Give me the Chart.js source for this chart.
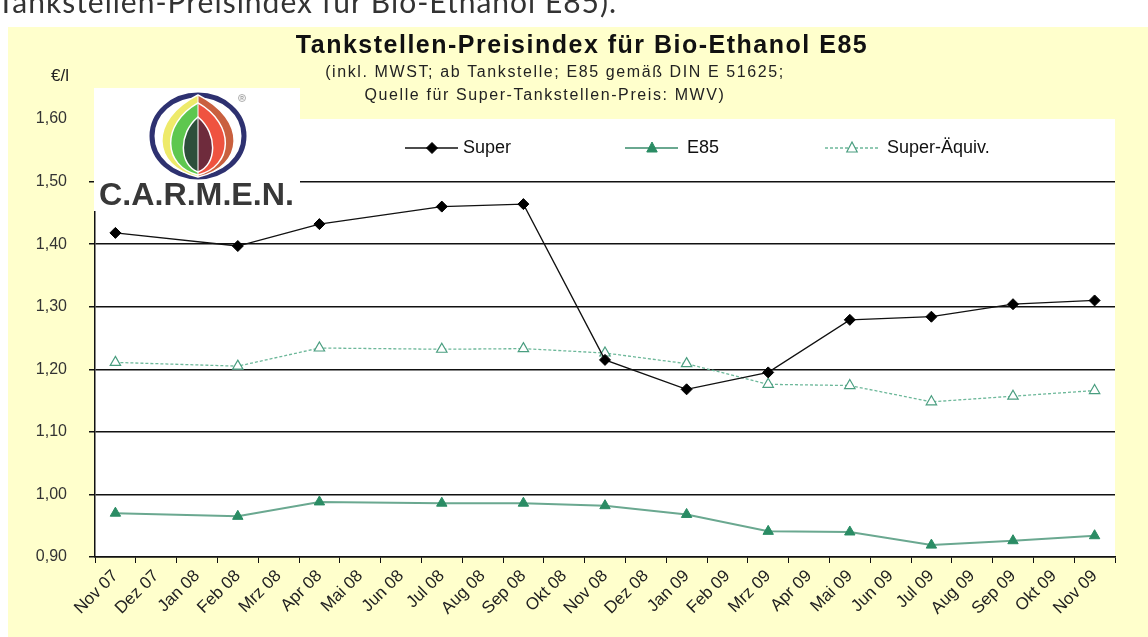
<!DOCTYPE html>
<html>
<head>
<meta charset="utf-8">
<script src="https://cdn.jsdelivr.net/npm/chart.js@4.4.1/dist/chart.umd.min.js"></script>
<style>
  html, body { margin: 0; padding: 0; background: #ffffff; overflow: hidden; }
  #wrap { position: relative; width: 1148px; height: 637px; }
  #cut { position: absolute; left: -3px; top: -17px; font-family: "Lato", "Open Sans", sans-serif; font-size: 30px; letter-spacing: 1px; color: #333; white-space: nowrap; z-index: 2; }
  canvas { position: absolute; left: 0; top: 0; }
</style>
</head>
<body>
<div id="wrap">
  <div id="cut">Tankstellen-Preisindex für Bio-Ethanol E85).</div>
  <canvas id="c" width="1148" height="637"></canvas>
</div>
<script>
// ---- Data ----
const months = ['Nov 07','Dez 07','Jan 08','Feb 08','Mrz 08','Apr 08','Mai 08','Jun 08','Jul 08','Aug 08','Sep 08','Okt 08',
                'Nov 08','Dez 08','Jan 09','Feb 09','Mrz 09','Apr 09','Mai 09','Jun 09','Jul 09','Aug 09','Sep 09','Okt 09','Nov 09'];
const sampleMonths = ['Nov 07','Feb 08','Apr 08','Jul 08','Sep 08','Nov 08','Jan 09','Mrz 09','Mai 09','Jul 09','Sep 09','Nov 09'];
const superValues  = [1.418, 1.397, 1.432, 1.460, 1.464, 1.215, 1.168, 1.195, 1.279, 1.284, 1.304, 1.310];
const e85Values    = [0.970, 0.965, 0.988, 0.986, 0.986, 0.982, 0.968, 0.941, 0.940, 0.919, 0.926, 0.934];
const aequivValues = [1.211, 1.205, 1.234, 1.232, 1.233, 1.226, 1.209, 1.176, 1.174, 1.148, 1.157, 1.166];
const yTicks = [0.90, 1.00, 1.10, 1.20, 1.30, 1.40, 1.50, 1.60];

const titleText = 'Tankstellen-Preisindex für Bio-Ethanol E85';
const subtitleLines = ['(inkl. MWST; ab Tankstelle; E85 gemäß DIN E 51625;', 'Quelle für Super-Tankstellen-Preis: MWV)'];
const unitLabel = '€/l';

function expand(values) {
  const out = months.map(() => null);
  sampleMonths.forEach((m, i) => { out[months.indexOf(m)] = values[i]; });
  return out;
}

const FONT = '"Liberation Sans", Arial, sans-serif';

const decorPlugin = {
  id: 'decor',
  beforeDraw(chart) {
    const ctx = chart.ctx, a = chart.chartArea;
    ctx.save();
    ctx.fillStyle = '#ffffff';
    ctx.fillRect(0, 0, chart.width, chart.height);
    ctx.fillStyle = '#ffffcc';
    ctx.fillRect(8, 27, chart.width - 8, chart.height - 27);
    ctx.fillStyle = '#ffffff';
    ctx.fillRect(a.left, a.top, a.right - a.left, a.bottom - a.top);
    ctx.restore();
  },
  afterDraw(chart) {
    const ctx = chart.ctx;
    ctx.save();
    // Title
    ctx.fillStyle = '#111';
    ctx.textAlign = 'center';
    ctx.textBaseline = 'middle';
    ctx.font = 'bold 25px ' + FONT;
    ctx.letterSpacing = '1.5px';
    ctx.fillText(titleText, 582, 46);
    ctx.font = '16px ' + FONT;
    ctx.letterSpacing = '1.6px';
    ctx.fillStyle = '#222';
    ctx.fillText(subtitleLines[0], 555, 73);
    ctx.fillText(subtitleLines[1], 545, 96);
    ctx.letterSpacing = '0px';
    ctx.font = '17px ' + FONT;
    ctx.textAlign = 'left';
    ctx.fillText(unitLabel, 51, 76);

    // Logo
    drawLogo(ctx);

    // Legend from datasets
    const pos = [{x: 405, tx: 463}, {x: 625, tx: 687}, {x: 825, tx: 887}];
    const ly = 148;
    chart.data.datasets.forEach((ds, i) => {
      const p = pos[i];
      ctx.save();
      ctx.strokeStyle = ds.borderColor;
      ctx.lineWidth = ds.borderWidth;
      ctx.setLineDash(ds.borderDash || []);
      ctx.beginPath();
      ctx.moveTo(p.x, ly); ctx.lineTo(p.x + 53, ly);
      ctx.stroke();
      ctx.setLineDash([]);
      drawMarker(ctx, ds.pointStyle, p.x + 27, ly, ds.pointRadius, ds.pointBackgroundColor, ds.pointBorderColor, ds.pointBorderWidth);
      ctx.fillStyle = '#111';
      ctx.font = '18px ' + FONT;
      ctx.textAlign = 'left';
      ctx.textBaseline = 'middle';
      ctx.fillText(ds.label, p.tx, ly);
      ctx.restore();
    });
    ctx.restore();
  }
};

function drawMarker(ctx, style, x, y, r, fill, stroke, bw) {
  ctx.save();
  ctx.beginPath();
  if (style === 'rectRot') {
    ctx.moveTo(x, y - r); ctx.lineTo(x + r, y); ctx.lineTo(x, y + r); ctx.lineTo(x - r, y);
  } else {
    ctx.moveTo(x, y - r); ctx.lineTo(x + r * 0.87, y + r * 0.5 + 1); ctx.lineTo(x - r * 0.87, y + r * 0.5 + 1);
  }
  ctx.closePath();
  ctx.fillStyle = fill; ctx.fill();
  ctx.lineWidth = bw; ctx.strokeStyle = stroke; ctx.stroke();
  ctx.restore();
}

function lensPath(ctx, cx, top, bottom, w) {
  const h = bottom - top;
  ctx.beginPath();
  ctx.moveTo(cx, top);
  ctx.bezierCurveTo(cx - w * 1.35, top + h * 0.30, cx - w * 1.25, bottom - h * 0.12, cx, bottom);
  ctx.bezierCurveTo(cx + w * 1.25, bottom - h * 0.12, cx + w * 1.35, top + h * 0.30, cx, top);
  ctx.closePath();
}

function drawLogo(ctx) {
  ctx.save();
  ctx.fillStyle = '#ffffff';
  ctx.fillRect(94, 88, 206, 123);
  const cx = 198, cy = 136;
  // ring
  ctx.beginPath();
  ctx.ellipse(cx, cy, 46, 41, 0, 0, Math.PI * 2);
  ctx.lineWidth = 5; ctx.strokeStyle = '#2e3170'; ctx.stroke();
  // halves
  const layers = [
    {top: 95, bottom: 177, w: 37, L: '#eeea6a', R: '#c9603f'},
    {top: 103, bottom: 175, w: 28, L: '#5ec74f', R: '#ef5340'},
    {top: 117, bottom: 172, w: 15, L: '#2d4f3b', R: '#6e2b3c'}
  ];
  layers.forEach(l => {
    ['L', 'R'].forEach(side => {
      ctx.save();
      ctx.beginPath();
      if (side === 'L') ctx.rect(cx - 60, 80, 60, 110); else ctx.rect(cx, 80, 60, 110);
      ctx.clip();
      lensPath(ctx, cx, l.top, l.bottom, l.w);
      ctx.fillStyle = l[side];
      ctx.fill();
      ctx.lineWidth = 1.5; ctx.strokeStyle = '#ffffff'; ctx.stroke();
      ctx.restore();
    });
  });
  ctx.beginPath(); ctx.moveTo(cx, 95); ctx.lineTo(cx, 177);
  ctx.lineWidth = 1; ctx.strokeStyle = '#ffffff'; ctx.stroke();
  // registered mark
  ctx.beginPath(); ctx.arc(242, 98, 3.5, 0, Math.PI * 2);
  ctx.lineWidth = 0.8; ctx.strokeStyle = '#999'; ctx.stroke();
  ctx.font = 'bold 5px ' + FONT; ctx.fillStyle = '#999'; ctx.textAlign = 'center'; ctx.textBaseline = 'middle';
  ctx.fillText('R', 242, 98.5);
  // text
  ctx.font = 'bold 31px ' + FONT;
  ctx.textAlign = 'left'; ctx.textBaseline = 'alphabetic';
  const t = 'C.A.R.M.E.N.';
  const mw = ctx.measureText(t).width;
  ctx.translate(99, 205);
  ctx.scale(195 / mw, 1);
  ctx.fillStyle = '#383838';
  ctx.fillText(t, 0, 0);
  ctx.restore();
}

new Chart(document.getElementById('c'), {
  type: 'line',
  data: {
    labels: months,
    datasets: [
      {
        label: 'Super', data: expand(superValues), spanGaps: true,
        borderColor: '#111', borderWidth: 1.3, tension: 0,
        pointStyle: 'rectRot', pointRadius: 5.5, pointBackgroundColor: '#000', pointBorderColor: '#000', pointBorderWidth: 1
      },
      {
        label: 'E85', data: expand(e85Values), spanGaps: true,
        borderColor: '#6aa890', borderWidth: 2, tension: 0,
        pointStyle: 'triangle', pointRadius: 6, pointBackgroundColor: '#2a8c64', pointBorderColor: '#2a8c64', pointBorderWidth: 1
      },
      {
        label: 'Super-Äquiv.', data: expand(aequivValues), spanGaps: true,
        borderColor: '#6db89a', borderWidth: 1.3, borderDash: [3, 2], tension: 0,
        pointStyle: 'triangle', pointRadius: 6, pointBackgroundColor: '#ffffff', pointBorderColor: '#4a9e80', pointBorderWidth: 1.2
      }
    ]
  },
  options: {
    responsive: false,
    animation: false,
    layout: { padding: { left: 0, right: 33, top: 119, bottom: 0 } },
    plugins: { legend: { display: false }, title: { display: false }, tooltip: { enabled: false } },
    scales: {
      x: {
        type: 'category',
        offset: true,
        grid: { display: true, offset: true, drawOnChartArea: false, drawTicks: true, tickLength: 6, color: '#111', lineWidth: 1 },
        border: { display: true, color: '#111', width: 1.5 },
        ticks: { autoSkip: false, maxRotation: 45, minRotation: 45, padding: 3, color: '#222', font: { family: FONT, size: 17 } },
        afterFit(s) { s.height = 80; }
      },
      y: {
        min: 0.9, max: 1.6,
        afterBuildTicks(s) { s.ticks = yTicks.map(v => ({ value: v })); },
        grid: {
          drawTicks: true, tickLength: 6, lineWidth: 1.5,
          color: c => (c.tick && Math.abs(c.tick.value - 1.6) < 1e-6) ? 'rgba(0,0,0,0)' : '#111'
        },
        border: { display: true, color: '#111', width: 1.5 },
        ticks: {
          padding: 22, color: '#333', font: { family: FONT, size: 16 },
          callback: v => Number(v).toFixed(2).replace('.', ',')
        },
        afterFit(s) { s.width = 95; }
      }
    }
  },
  plugins: [decorPlugin]
});
</script>
</body>
</html>
